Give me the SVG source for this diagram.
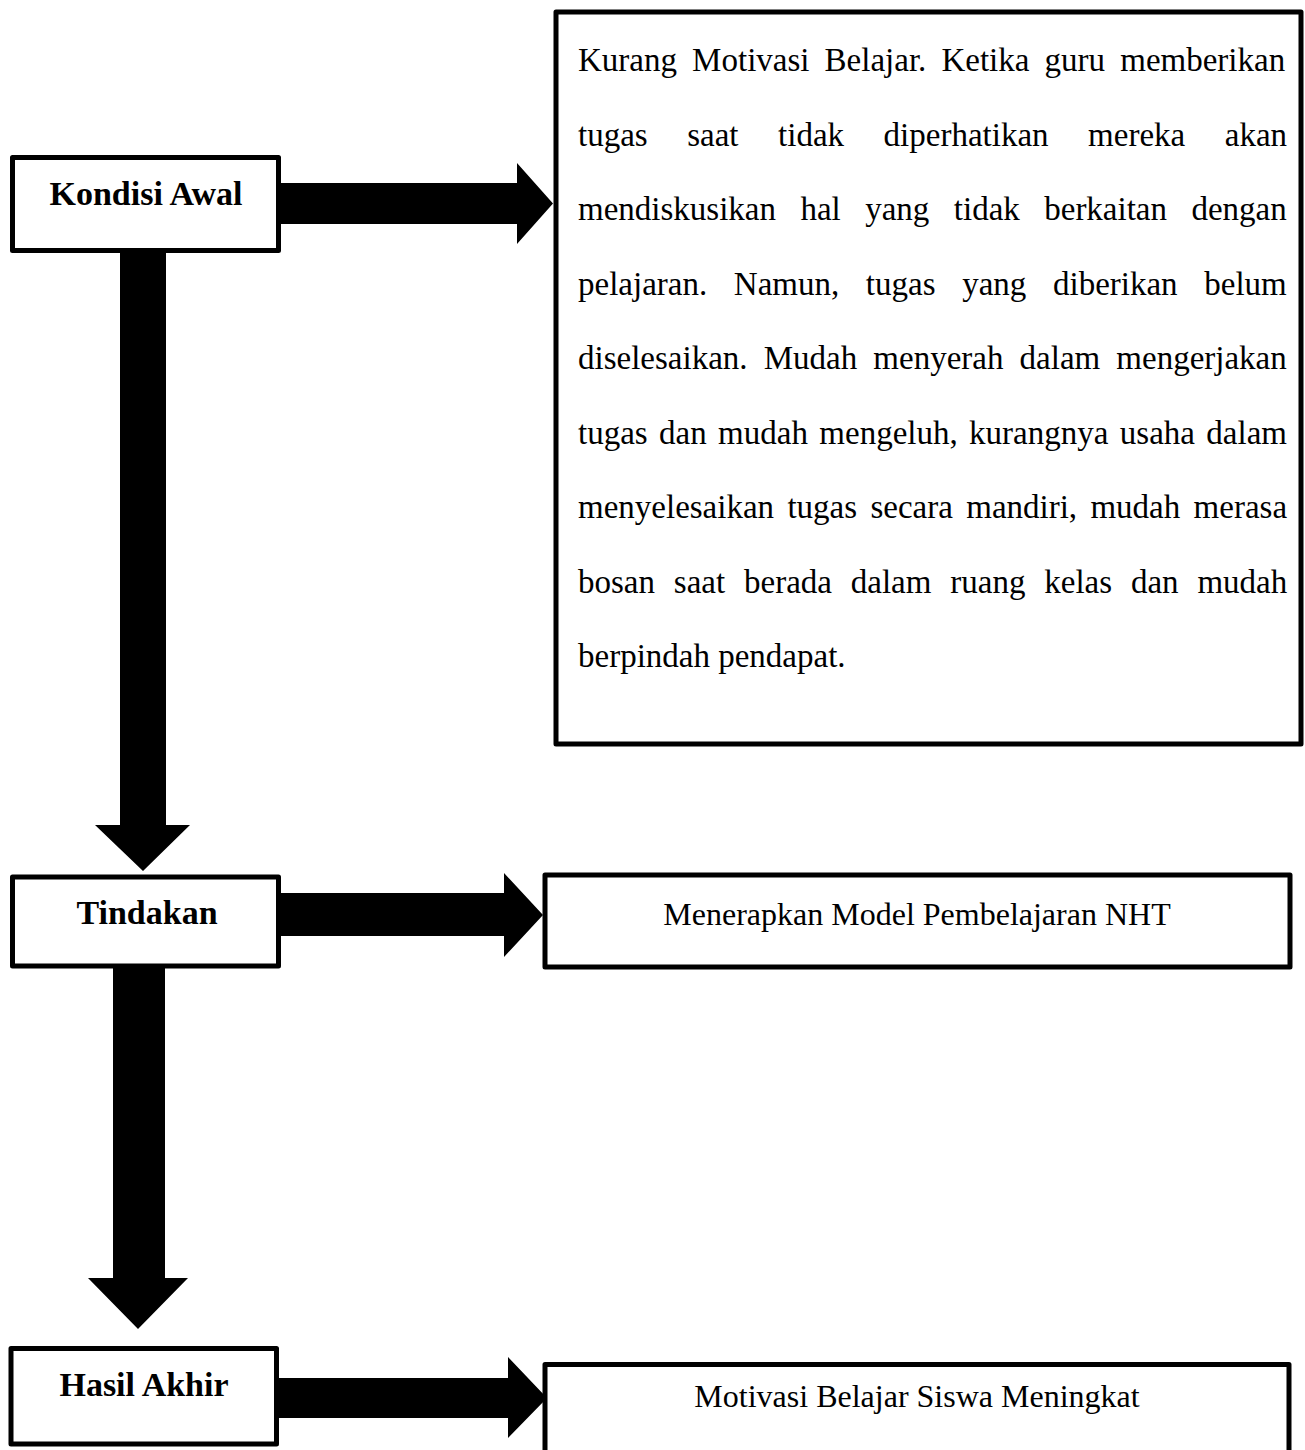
<svg xmlns="http://www.w3.org/2000/svg" width="1305" height="1450" viewBox="0 0 1305 1450">
<style>
.box{fill:#fff;stroke:#000;stroke-width:5;stroke-linejoin:round}
.lbl{font-family:"Liberation Serif","Times New Roman",serif;font-weight:bold;font-size:34px;text-anchor:middle;fill:#000}
.body{font-family:"Liberation Serif","Times New Roman",serif;font-size:33px;fill:#000}
.one{font-family:"Liberation Serif","Times New Roman",serif;font-size:32px;text-anchor:middle;fill:#000}
.arrow{fill:#000}
</style>
<rect width="1305" height="1450" fill="#fff"/>
<g id="connectors">
<polygon class="arrow" points="120,251 166,251 166,825 190,825 143,871 95,825 120,825"/>
<polygon class="arrow" points="113,966 165,966 165,1278 188,1278 138,1329 88,1278 113,1278"/>
<polygon class="arrow" points="279,183 517,183 517,163 553,203.5 517,244 517,224 279,224"/>
<polygon class="arrow" points="279,893 504,893 504,873 543,915 504,957 504,936 279,936"/>
<polygon class="arrow" points="277,1378 508,1378 508,1357 547,1398 508,1438 508,1418 277,1418"/>
</g>
<g id="kondisi-awal">
<rect class="box" x="12.5" y="157.5" width="266" height="93"/>
<text class="lbl" x="146" y="205">Kondisi Awal</text>
</g>
<g id="tindakan">
<rect class="box" x="12.5" y="877" width="266" height="89"/>
<text class="lbl" x="147" y="924">Tindakan</text>
</g>
<g id="hasil-akhir">
<rect class="box" x="11" y="1348.5" width="265.5" height="95.5"/>
<text class="lbl" x="144" y="1396">Hasil Akhir</text>
</g>
<g id="kondisi-detail">
<rect class="box" x="556" y="12" width="745" height="732"/>
<text class="body" x="578" y="71" style="word-spacing:6.9px">Kurang Motivasi Belajar. Ketika guru memberikan</text>
<text class="body" x="578" y="145.5" style="word-spacing:31.3px">tugas saat tidak diperhatikan mereka akan</text>
<text class="body" x="578" y="220" style="word-spacing:16.2px">mendiskusikan hal yang tidak berkaitan dengan</text>
<text class="body" x="578" y="294.5" style="word-spacing:18.4px">pelajaran. Namun, tugas yang diberikan belum</text>
<text class="body" x="578" y="369" style="word-spacing:7.9px">diselesaikan. Mudah menyerah dalam mengerjakan</text>
<text class="body" x="578" y="443.5" style="word-spacing:3.15px">tugas dan mudah mengeluh, kurangnya usaha dalam</text>
<text class="body" x="578" y="518" style="word-spacing:5.1px">menyelesaikan tugas secara mandiri, mudah merasa</text>
<text class="body" x="578" y="592.5" style="word-spacing:10.6px">bosan saat berada dalam ruang kelas dan mudah</text>
<text class="body" x="578" y="667">berpindah pendapat.</text>
</g>
<g id="tindakan-detail">
<rect class="box" x="545" y="875" width="745" height="92"/>
<text class="one" x="917" y="925">Menerapkan Model Pembelajaran NHT</text>
</g>
<g id="hasil-detail">
<rect class="box" x="545" y="1364.5" width="744" height="120"/>
<text class="one" x="917" y="1407">Motivasi Belajar Siswa Meningkat</text>
</g>
</svg>
